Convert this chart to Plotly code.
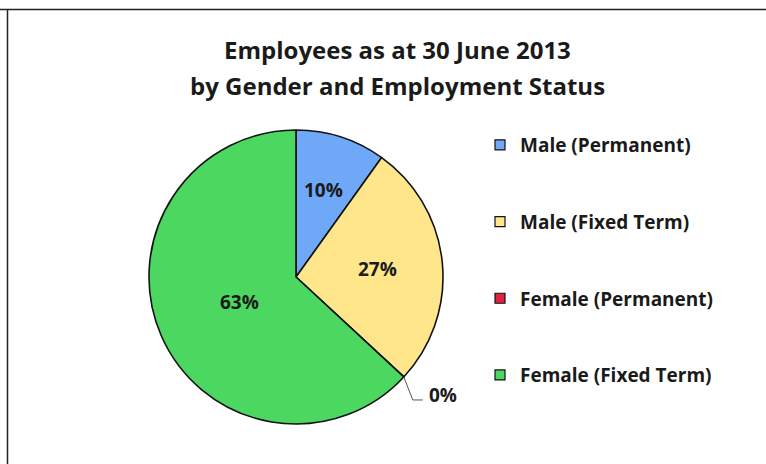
import math
import plotly.graph_objects as go

# Employees as at 30 June 2013, share of headcount (%)
categories = ["Male (Permanent)", "Male (Fixed Term)", "Female (Permanent)", "Female (Fixed Term)"]
shares = [9.9, 27.0, 0.0, 63.1]
colors = ["#6EA8F7", "#FFE68A", "#E0213F", "#4CD860"]
title_lines = ["Employees as at 30 June 2013", "by Gender and Employment Status"]

W, H = 766, 464
CX, CY, R = 296, 277, 147          # pie centre and radius in pixels
TXT = "#1a1a1a"
FONT = "Open Sans"
# distance of each inside label from the centre, as a fraction of the radius
label_radius = [0.62, 0.56, 0.0, 0.42]

total = sum(shares)
pct_labels = [f"{round(v / total * 100):.0f}%" for v in shares]

fig = go.Figure()

fig.add_trace(go.Pie(
    labels=categories,
    values=shares,
    textinfo="none",
    marker=dict(colors=colors, line=dict(color="#111111", width=1.6)),
    sort=False,
    direction="clockwise",
    rotation=0,
    showlegend=False,
    hoverinfo="label+percent",
    domain=dict(x=[(CX - R) / W, (CX + R) / W], y=[(H - CY - R) / H, (H - CY + R) / H]),
))

# legend entries, one group each so the items can be spaced apart
for name, col in zip(categories, colors):
    fig.add_trace(go.Scatter(
        x=[None], y=[None], mode="markers", name=name,
        legendgroup=name,
        marker=dict(symbol="square", size=10, color=col, line=dict(color="#111111", width=1.2)),
    ))

annotations = []
shapes = []
label_font = dict(family=FONT, size=19, color=TXT, weight="bold")


def px_to_paper(x, y):
    return x / W, 1 - y / H


cum = 0.0
for v, lab, rf in zip(shares, pct_labels, label_radius):
    start = cum
    cum += v
    ang = (start + v / 2) / total * 2 * math.pi
    if v > 0:
        # percentage label inside the slice
        lx, ly = px_to_paper(CX + rf * R * math.sin(ang), CY - rf * R * math.cos(ang))
        annotations.append(dict(x=lx, y=ly, xref="paper", yref="paper", text=lab,
                                showarrow=False, xanchor="center", yanchor="middle",
                                font=label_font))
    else:
        # empty slice: leader line from the rim and an outside label
        x0, y0 = CX + R * math.sin(ang), CY - R * math.cos(ang)
        x1, y1 = x0 + 9, y0 + 23
        x2 = x1 + 10
        path = (f"M {x0/W} {1 - y0/H} L {x1/W} {1 - y1/H} L {x2/W} {1 - y1/H}")
        shapes.append(dict(type="path", xref="paper", yref="paper", path=path,
                           line=dict(color="#555555", width=1)))
        tx, ty = px_to_paper(x2 + 4, y1 - 5)
        annotations.append(dict(x=tx, y=ty, xref="paper", yref="paper", text=lab,
                                showarrow=False, xanchor="left", yanchor="middle",
                                font=label_font))

# chart title, two lines
for line, yc in zip(title_lines, [49, 86]):
    tx, ty = px_to_paper(397, yc)
    annotations.append(dict(x=tx, y=ty, xref="paper", yref="paper", text=line,
                            showarrow=False, xanchor="center", yanchor="middle",
                            font=dict(family=FONT, size=24, color=TXT, weight="bold")))

# frame lines along the top and left
shapes.append(dict(type="line", xref="paper", yref="paper",
                   x0=0, x1=1, y0=1 - 9.5 / H, y1=1 - 9.5 / H,
                   line=dict(color="#222222", width=1.5)))
shapes.append(dict(type="line", xref="paper", yref="paper",
                   x0=7.5 / W, x1=7.5 / W, y0=0, y1=1 - 9.5 / H,
                   line=dict(color="#222222", width=1.5)))

fig.update_layout(
    width=W, height=H,
    margin=dict(l=0, r=0, t=0, b=0),
    paper_bgcolor="white", plot_bgcolor="white",
    xaxis=dict(visible=False), yaxis=dict(visible=False),
    annotations=annotations, shapes=shapes,
    legend=dict(
        x=480 / W, y=1 - 126 / H, xanchor="left", yanchor="top",
        traceorder="grouped", tracegroupgap=49,
        font=dict(family=FONT, size=19, color=TXT, weight="bold"),
        bgcolor="rgba(0,0,0,0)",
    ),
)

fig.write_html("out.html")
